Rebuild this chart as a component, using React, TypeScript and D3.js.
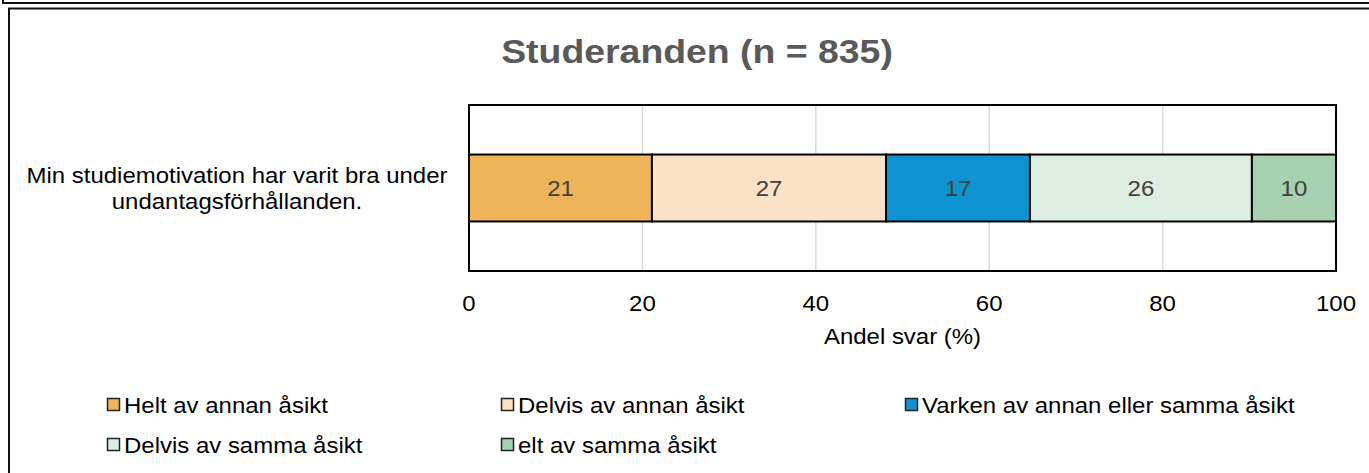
import * as d3 from "d3";
import { useEffect, useRef } from "react";

const title = "Studeranden (n = 835)";
const categoryLines = ["Min studiemotivation har varit bra under", "undantagsförhållanden."];
const seriesNames = [
  "Helt av annan åsikt",
  "Delvis av annan åsikt",
  "Varken av annan eller samma åsikt",
  "Delvis av samma åsikt",
  "elt av samma åsikt",
];
const seriesValues = [21.1, 27.0, 16.6, 25.6, 9.7];
const seriesLabels = ["21", "27", "17", "26", "10"];
const seriesColors = ["#EDB458", "#FBE2C6", "#0E93D0", "#DCEEE1", "#A7D1B0"];
const xTicks = [0, 20, 40, 60, 80, 100];
const axisTitle = "Andel svar (%)";

const W = 1369;
const H = 473;
const FONT = "'Liberation Sans', Arial, sans-serif";
const FS = 22;
const SX = 1.09; // reference text is a bit wide

const App: React.FC = () => {
  const svgRef = useRef<SVGSVGElement | null>(null);

  useEffect(() => {
    const svg = d3.select(svgRef.current);
    svg.selectAll("*").remove();

    // frame lines
    svg.append("path")
      .attr("d", `M3,0 V3 H${W}`)
      .attr("fill", "none").attr("stroke", "#111").attr("stroke-width", 2);
    svg.append("path")
      .attr("d", `M9,${H} V8.5 H${W}`)
      .attr("fill", "none").attr("stroke", "#111").attr("stroke-width", 2);

    const plot = { left: 469, right: 1336, top: 105, bottom: 271 };
    const x = d3.scaleLinear().domain([0, 100]).range([plot.left, plot.right]);
    const y = d3.scaleBand().domain(["q"]).range([plot.top, plot.bottom]).paddingInner(0).paddingOuter(0.74);

    // title
    svg.append("text")
      .attr("transform", `translate(697,63) scale(1.1,1)`)
      .attr("text-anchor", "middle")
      .attr("font-family", FONT).attr("font-weight", "bold").attr("font-size", 34)
      .attr("fill", "#595959")
      .text(title);

    // gridlines
    svg.append("g").selectAll("line")
      .data(xTicks.slice(1, -1))
      .join("line")
      .attr("x1", (d) => x(d)).attr("x2", (d) => x(d))
      .attr("y1", plot.top).attr("y2", plot.bottom)
      .attr("stroke", "#D9D9D9").attr("stroke-width", 1.5);

    // stacked segments
    const starts = seriesValues.map((_, i) => d3.sum(seriesValues.slice(0, i)));
    const bandY = y("q") as number;
    const bh = y.bandwidth();
    const g = svg.append("g");
    g.selectAll("rect")
      .data(seriesValues)
      .join("rect")
      .attr("x", (_, i) => x(starts[i]))
      .attr("y", bandY)
      .attr("width", (d) => x(d) - x(0))
      .attr("height", bh)
      .attr("fill", (_, i) => seriesColors[i])
      .attr("stroke", "#000").attr("stroke-width", 2);
    g.selectAll("text")
      .data(seriesValues)
      .join("text")
      .attr("transform", (d, i) => `translate(${x(starts[i] + d / 2)},${bandY + bh / 2 + 8}) scale(${SX},1)`)
      .attr("text-anchor", "middle")
      .attr("font-family", FONT).attr("font-size", FS)
      .attr("fill", "#404040")
      .text((_, i) => seriesLabels[i]);

    // plot border
    svg.append("rect")
      .attr("x", plot.left).attr("y", plot.top)
      .attr("width", plot.right - plot.left).attr("height", plot.bottom - plot.top)
      .attr("fill", "none").attr("stroke", "#000").attr("stroke-width", 2);

    // x tick labels
    svg.append("g").selectAll("text")
      .data(xTicks)
      .join("text")
      .attr("transform", (d) => `translate(${x(d)},311) scale(${SX},1)`)
      .attr("text-anchor", "middle")
      .attr("font-family", FONT).attr("font-size", FS)
      .attr("fill", "#000")
      .text((d) => String(d));

    svg.append("text")
      .attr("transform", `translate(${(plot.left + plot.right) / 2},344) scale(${SX},1)`)
      .attr("text-anchor", "middle")
      .attr("font-family", FONT).attr("font-size", FS)
      .attr("fill", "#000")
      .text(axisTitle);

    // category label
    svg.append("g").selectAll("text")
      .data(categoryLines)
      .join("text")
      .attr("transform", (_, i) => `translate(237,${183 + i * 26}) scale(${SX},1)`)
      .attr("text-anchor", "middle")
      .attr("font-family", FONT).attr("font-size", FS)
      .attr("fill", "#000")
      .text((d) => d);

    // legend
    const legendCols = [107, 501, 905];
    const legendRows = [398, 438];
    const lg = svg.append("g").selectAll("g")
      .data(seriesNames)
      .join("g")
      .attr("transform", (_, i) => `translate(${legendCols[i % 3]},${legendRows[Math.floor(i / 3)]})`);
    lg.append("rect")
      .attr("x", 0.5).attr("y", 0.5).attr("width", 12).attr("height", 12)
      .attr("fill", (_, i) => seriesColors[i])
      .attr("stroke", "#222").attr("stroke-width", 1.5);
    lg.append("text")
      .attr("transform", `translate(17,15) scale(${SX},1)`)
      .attr("font-family", FONT).attr("font-size", FS)
      .attr("fill", "#000")
      .text((d) => d);
  }, []);

  return (
    <svg
      ref={svgRef}
      width={W}
      height={H}
      style={{ position: "absolute", left: 0, top: 0, background: "#fff" }}
    ></svg>
  );
};

export default App;
